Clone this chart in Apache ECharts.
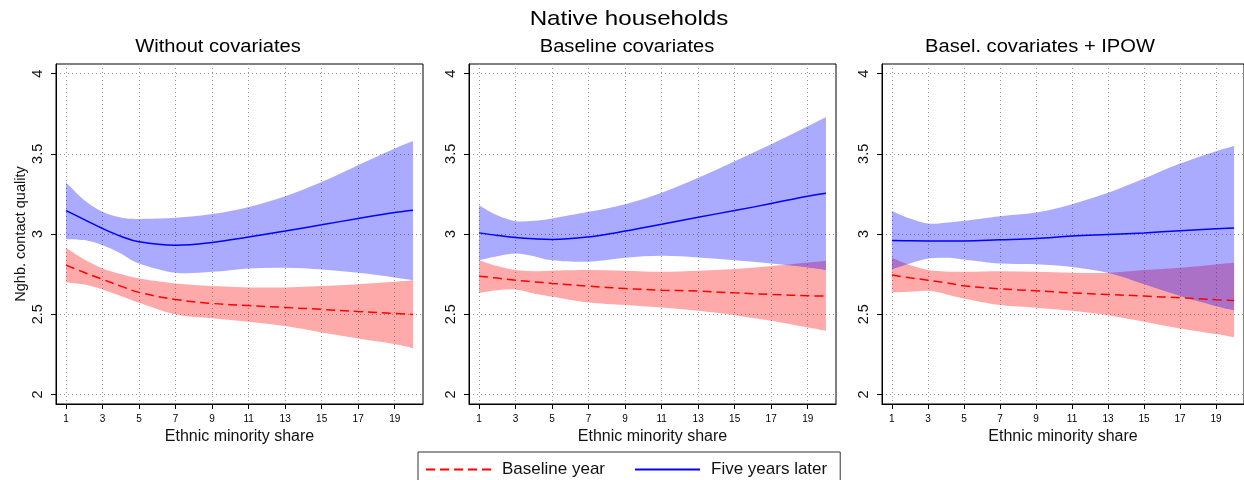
<!DOCTYPE html>
<html>
<head>
<meta charset="utf-8">
<script src="https://cdn.jsdelivr.net/npm/echarts@6/dist/echarts.min.js"></script>
<style>
  html, body { margin: 0; padding: 0; background: #fff; }
  #chart { width: 1244px; height: 480px; }
</style>
</head>
<body>
<div id="chart"></div>
<script>
// Evaluation points along the ethnic minority share axis
const xs = [1, 2, 3, 4, 5, 7, 9, 11, 13, 15, 17, 19, 20];
const xTicks = [1, 3, 5, 7, 9, 11, 13, 15, 17, 19];
const yTicks = [2, 2.5, 3, 3.5, 4];

const mainTitle = 'Native households';
const panelTitles = ['Without covariates', 'Baseline covariates', 'Basel. covariates + IPOW'];
const xTitle = 'Ethnic minority share';
const yTitle = 'Nghb. contact quality';
const seriesNames = ['Baseline year', 'Five years later'];

// Panel 1: without covariates
const p1BaseFit = [2.806, 2.760, 2.717, 2.675, 2.636, 2.592, 2.567, 2.554, 2.542, 2.530, 2.517, 2.505, 2.498];
const p1BaseLo  = [2.698, 2.685, 2.654, 2.613, 2.571, 2.498, 2.474, 2.453, 2.426, 2.386, 2.349, 2.314, 2.287];
const p1BaseHi  = [2.914, 2.841, 2.785, 2.750, 2.723, 2.692, 2.675, 2.667, 2.667, 2.675, 2.687, 2.702, 2.712];
const p1LaterFit = [3.146, 3.090, 3.034, 2.986, 2.951, 2.930, 2.947, 2.982, 3.018, 3.057, 3.097, 3.134, 3.148];
const p1LaterLo  = [2.968, 2.962, 2.930, 2.879, 2.816, 2.758, 2.764, 2.785, 2.789, 2.779, 2.758, 2.729, 2.712];
const p1LaterHi  = [3.321, 3.211, 3.138, 3.103, 3.094, 3.101, 3.124, 3.169, 3.236, 3.325, 3.429, 3.533, 3.580];

// Panel 2: baseline covariates
const p2BaseFit = [2.737, 2.725, 2.712, 2.702, 2.692, 2.675, 2.660, 2.650, 2.644, 2.633, 2.623, 2.615, 2.613];
const p2BaseLo  = [2.633, 2.650, 2.654, 2.629, 2.609, 2.573, 2.557, 2.542, 2.521, 2.494, 2.459, 2.417, 2.397];
const p2BaseHi  = [2.837, 2.800, 2.775, 2.768, 2.771, 2.775, 2.771, 2.764, 2.771, 2.781, 2.800, 2.822, 2.831];
const p2LaterFit = [3.007, 2.991, 2.978, 2.970, 2.966, 2.982, 3.018, 3.061, 3.105, 3.146, 3.190, 3.236, 3.254];
const p2LaterLo  = [2.837, 2.862, 2.879, 2.862, 2.837, 2.827, 2.852, 2.864, 2.854, 2.837, 2.816, 2.791, 2.775];
const p2LaterHi  = [3.180, 3.117, 3.080, 3.082, 3.097, 3.138, 3.186, 3.257, 3.350, 3.454, 3.560, 3.672, 3.730];

// Panel 3: baseline covariates + IPOW
const p3BaseFit = [2.744, 2.727, 2.712, 2.696, 2.677, 2.658, 2.646, 2.633, 2.623, 2.613, 2.602, 2.590, 2.586];
const p3BaseLo  = [2.636, 2.640, 2.646, 2.625, 2.598, 2.557, 2.540, 2.521, 2.494, 2.453, 2.411, 2.376, 2.355];
const p3BaseHi  = [2.852, 2.806, 2.775, 2.766, 2.764, 2.768, 2.764, 2.758, 2.758, 2.775, 2.789, 2.810, 2.820];
const p3LaterFit = [2.960, 2.958, 2.957, 2.957, 2.957, 2.964, 2.972, 2.987, 2.997, 3.007, 3.020, 3.032, 3.038];
const p3LaterLo  = [2.779, 2.816, 2.847, 2.852, 2.841, 2.816, 2.812, 2.795, 2.758, 2.687, 2.613, 2.550, 2.525];
const p3LaterHi  = [3.144, 3.097, 3.065, 3.070, 3.082, 3.111, 3.134, 3.186, 3.257, 3.346, 3.439, 3.516, 3.549];

const panels = [
  { base: [p1BaseFit, p1BaseLo, p1BaseHi], later: [p1LaterFit, p1LaterLo, p1LaterHi] },
  { base: [p2BaseFit, p2BaseLo, p2BaseHi], later: [p2LaterFit, p2LaterLo, p2LaterHi] },
  { base: [p3BaseFit, p3BaseLo, p3BaseHi], later: [p3LaterFit, p3LaterLo, p3LaterHi] }
];

const FONT = 'Liberation Sans, Arial, Helvetica, sans-serif';
const RED = '#ff0000';
const BLUE = '#0000ff';
const RED_BAND = 'rgba(255,0,0,0.333)';
const BLUE_BAND = 'rgba(0,0,255,0.333)';
const TEXT_STRETCH = 1.15;

// Plot frames (left edge, width) for the three panels
const frames = [
  { left: 56, width: 367, titleX: 218 },
  { left: 469, width: 367, titleX: 627 },
  { left: 882, width: 367, titleX: 1040 }
];
const frameTop = 64;
const frameHeight = 340;

const pairs = arr => xs.map((x, i) => [x, arr[i]]);

// Smooth path through pixel points (Catmull-Rom converted to cubic Bezier)
function smoothSegments(pts) {
  let d = '';
  for (let i = 0; i < pts.length - 1; i++) {
    const p0 = pts[Math.max(i - 1, 0)], p1 = pts[i], p2 = pts[i + 1], p3 = pts[Math.min(i + 2, pts.length - 1)];
    const c1 = [p1[0] + (p2[0] - p0[0]) / 6, p1[1] + (p2[1] - p0[1]) / 6];
    const c2 = [p2[0] - (p3[0] - p1[0]) / 6, p2[1] - (p3[1] - p1[1]) / 6];
    d += ' C' + c1[0] + ',' + c1[1] + ' ' + c2[0] + ',' + c2[1] + ' ' + p2[0] + ',' + p2[1];
  }
  return d;
}

// Confidence band drawn as one filled shape between the lower and upper bounds
function bandSeries(k, lo, hi, color) {
  return {
    type: 'custom', xAxisIndex: k, yAxisIndex: k, silent: true, z: 1,
    data: xs.map((x, i) => [x, lo[i], hi[i]]),
    encode: { x: 0, y: [1, 2] },
    renderItem: (params, api) => {
      if (params.dataIndex !== 0) return null;
      const upper = xs.map((x, i) => api.coord([x, hi[i]]));
      const lower = xs.map((x, i) => api.coord([x, lo[i]])).reverse();
      const d = 'M' + upper[0][0] + ',' + upper[0][1] + smoothSegments(upper) +
        ' L' + lower[0][0] + ',' + lower[0][1] + smoothSegments(lower) + ' Z';
      return { type: 'path', shape: { pathData: d }, style: { fill: color, stroke: null } };
    }
  };
}

const grids = [], xAxes = [], yAxes = [], series = [];

frames.forEach((f, k) => {
  grids.push({
    left: f.left, top: frameTop, width: f.width, height: frameHeight,
    show: true, borderColor: '#000', borderWidth: 1, backgroundColor: 'transparent'
  });
  xAxes.push({
    type: 'value', gridIndex: k, min: 0.45, max: 20.55,
    name: xTitle, nameLocation: 'middle', nameGap: 17,
    nameTextStyle: { fontFamily: FONT, fontSize: 16, color: '#111' },
    axisLine: { show: true, onZero: false, lineStyle: { color: '#000', width: 1 } },
    axisTick: { show: true, length: 5, customValues: xTicks, lineStyle: { color: '#000' } },
    axisLabel: { customValues: xTicks, fontFamily: FONT, fontSize: 10, color: '#000', margin: 10 },
    splitLine: { show: true, lineStyle: { color: '#999', type: [1, 3], width: 1 } }
  });
  yAxes.push({
    type: 'value', gridIndex: k, min: 1.94, max: 4.06,
    name: k === 0 ? yTitle : '', nameLocation: 'middle', nameGap: 28, nameRotate: 90,
    nameTextStyle: { fontFamily: FONT, fontSize: 14.5, color: '#111' },
    axisLine: { show: true, onZero: false, lineStyle: { color: '#000', width: 1 } },
    axisTick: { show: true, length: 5, customValues: yTicks, lineStyle: { color: '#000' } },
    axisLabel: { customValues: yTicks, rotate: 90, fontFamily: FONT, fontSize: 14.5, color: '#111', margin: 11 },
    splitLine: { show: true, lineStyle: { color: '#999', type: [1, 3], width: 1 } }
  });

  const p = panels[k];
  series.push(bandSeries(k, p.base[1], p.base[2], RED_BAND));
  series.push(bandSeries(k, p.later[1], p.later[2], BLUE_BAND));
  series.push({
    type: 'line', name: seriesNames[0], xAxisIndex: k, yAxisIndex: k,
    data: pairs(p.base[0]), smooth: 0.4, symbol: 'none', z: 3,
    lineStyle: { color: RED, width: 1.5, type: [9, 5] }, itemStyle: { color: RED }
  });
  series.push({
    type: 'line', name: seriesNames[1], xAxisIndex: k, yAxisIndex: k,
    data: pairs(p.later[0]), smooth: 0.4, symbol: 'none', z: 3,
    lineStyle: { color: BLUE, width: 1.5 }, itemStyle: { color: BLUE }
  });
});

const titleTexts = [
  { type: 'text', x: 629, y: 19, scaleX: TEXT_STRETCH,
    style: { text: mainTitle, fontFamily: FONT, fontSize: 21, fill: '#000', textAlign: 'center', textVerticalAlign: 'middle' } }
].concat(frames.map((f, k) => ({
  type: 'text', x: f.titleX, y: 47, scaleX: TEXT_STRETCH,
  style: { text: panelTitles[k], fontFamily: FONT, fontSize: 17.5, fill: '#000', textAlign: 'center', textVerticalAlign: 'middle' }
})));

const chart = echarts.init(document.getElementById('chart'), null, { renderer: 'canvas' });
chart.setOption({
  backgroundColor: '#fff',
  animation: false,
  textStyle: { fontFamily: FONT },
  grid: grids,
  xAxis: xAxes,
  yAxis: yAxes,
  graphic: titleTexts,
  legend: {
    data: seriesNames,
    left: 418, top: 452,
    orient: 'horizontal',
    itemWidth: 65, itemHeight: 14, itemGap: 29,
    padding: [9, 13, 9, 7],
    borderColor: '#333', borderWidth: 1,
    itemStyle: { opacity: 0 },
    textStyle: { fontFamily: FONT, fontSize: 17, color: '#111', padding: [0, 0, 0, 6] }
  },
  series: series
});
</script>
</body>
</html>
